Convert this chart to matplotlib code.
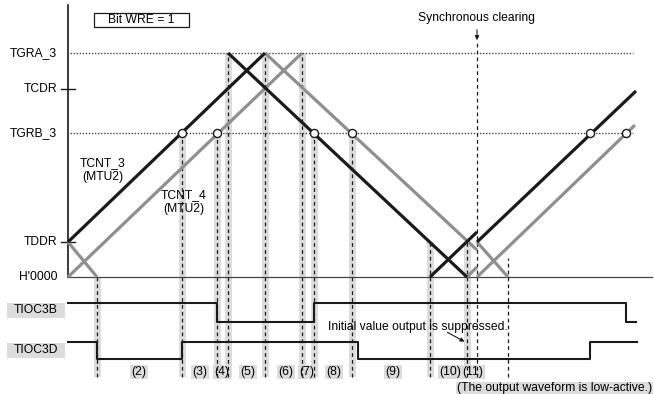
import matplotlib.pyplot as plt
from matplotlib.patches import Rectangle

plt.rcParams['font.family'] = ['Liberation Sans', 'DejaVu Sans']

# counter levels (arbitrary units, H'0000 = 0)
levels = {"TGRA_3": 224, "TCDR": 188, "TGRB_3": 144, "TDDR": 35, "H'0000": 0}

# TCNT_3 segments (time, count)
tcnt3_t = [[0, 197], [160, 399], [362, 409], [409, 568]]
tcnt3_v = [[35, 224], [224, 0], [0, 45], [35, 186]]
# TCNT_4 segments
tcnt4_t = [[0, 29], [0, 234], [197, 409], [399, 409], [409, 440], [409, 567]]
tcnt4_v = [[35, 0], [0, 224], [224, 27], [0, 10], [35, 0], [0, 152]]

# compare match points on TGRB_3
match_t = [114, 149, 246, 284, 522, 558]

# shaded timing marks: time, top count
mark_t = [29, 114, 149, 160, 197, 234, 246, 284, 362, 399]
mark_top = [0, 144, 144, 224, 224, 224, 144, 144, 35, 35]

# output waveforms: edge times and state (1 = high)
b_t = [0, 149, 246, 558, 568]
b_s = [1, 0, 1, 0, 0]
d_t = [0, 29, 114, 290, 522, 569]
d_s = [1, 0, 1, 0, 1, 1]

sections = ["(2)", "(3)", "(4)", "(5)", "(6)", "(7)", "(8)", "(9)", "(10)", "(11)"]
section_t = [71, 132, 154, 180, 218, 239, 266, 325, 382, 405]

sync_t = 409
fs = 8.7

fig = plt.figure(figsize=(6.54, 3.94), dpi=100)
ax = fig.add_axes([0, 0, 1, 1])
ax.set_xlim(-68, 586)
ax.set_ylim(-117, 277)
ax.axis("off")

black = "#1a1a1a"
gray = "#8f8f8f"
band = "#dcdcdc"
bottom = -100

# bands + dashed lines
for t, top in zip(mark_t, mark_top):
    ax.fill_between([t - 3.5, t + 3.5], bottom, top, color=band, lw=0, zorder=1)
    ax.plot([t, t], [bottom, top], color=black, lw=0.9, ls=(0, (3, 2.5)), zorder=4)

# axis + reference lines
ax.plot([0, 0], [0, 272], color=black, lw=1.2, zorder=3)
ax.plot([0, 584], [0, 0], color="#444444", lw=0.9, zorder=2)
for name in ["TGRA_3", "TGRB_3"]:
    ax.plot([2, 565], [levels[name]] * 2, color="#444444", lw=1, ls=(0, (1, 1.2)), zorder=2)
for name in ["TCDR", "TDDR"]:
    ax.plot([-7, 7], [levels[name]] * 2, color=black, lw=1, zorder=3)
for name, v in levels.items():
    ax.text(-11, v, name, ha="right", va="center", fontsize=fs)

# counters
for t, v in zip(tcnt4_t, tcnt4_v):
    ax.plot(t, v, color=gray, lw=2.3, solid_capstyle="butt", zorder=5)
for t, v in zip(tcnt3_t, tcnt3_v):
    ax.plot(t, v, color=black, lw=2.3, solid_capstyle="butt", zorder=6)
ax.scatter(match_t, [levels["TGRB_3"]] * len(match_t), s=34, facecolor="white",
           edgecolor=black, lw=1, zorder=7)

ax.text(35, 107, "TCNT_3\n(MTU2)", ha="center", va="center", fontsize=fs, linespacing=1.15)
ax.text(116, 75, "TCNT_4\n(MTU2)", ha="center", va="center", fontsize=fs, linespacing=1.15)
ax.add_patch(Rectangle((26, 250), 95, 14, fc="white", ec=black, lw=0.9, zorder=3))
ax.text(73.5, 257, "Bit WRE = 1", ha="center", va="center", fontsize=fs, zorder=4)

# synchronous clearing
ax.plot([sync_t, sync_t], [bottom, 235], color=black, lw=0.9, ls=(0, (3, 2.5)), zorder=4)
ax.annotate("", xy=(sync_t, 234), xytext=(sync_t, 250),
            arrowprops=dict(arrowstyle="-|>", color=black, lw=0.8, mutation_scale=6))
ax.text(sync_t, 259, "Synchronous clearing", ha="center", va="center", fontsize=fs)
ax.plot([440, 440], [bottom, 19], color=black, lw=0.9, ls=(0, (3, 2.5)), zorder=4)

# waveforms
def wave(ts, ss, hi, lo):
    y = [hi if s else lo for s in ss]
    ax.step(ts, y, where="post", color=black, lw=1.5, zorder=6)

wave(b_t, b_s, -26, -45)
wave(d_t, d_s, -65, -82)
for name, y in [("TIOC3B", -33), ("TIOC3D", -73)]:
    ax.add_patch(Rectangle((-61, y - 7.5), 58, 15, fc=band, ec="none", zorder=2))
    ax.text(-32, y, name, ha="center", va="center", fontsize=fs, zorder=3)

for lab, t in zip(sections, section_t):
    ax.text(t, -95, lab, ha="center", va="center", fontsize=fs, zorder=3,
            bbox=dict(boxstyle="square,pad=0.1", fc=band, ec="none"))
ax.add_patch(Rectangle((388, -117), 197, 12, fc=band, ec="none", zorder=2))
ax.text(487, -111, "(The output waveform is low-active.)", ha="center", va="center",
        fontsize=fs, zorder=3)

ax.text(260, -50, "Initial value output is suppressed.", ha="left", va="center", fontsize=fs,
        zorder=8)
ax.annotate("", xy=(399, -66), xytext=(377, -54),
            arrowprops=dict(arrowstyle="-|>", color=black, lw=0.8, mutation_scale=6))

fig.savefig("out.png", dpi=100)
